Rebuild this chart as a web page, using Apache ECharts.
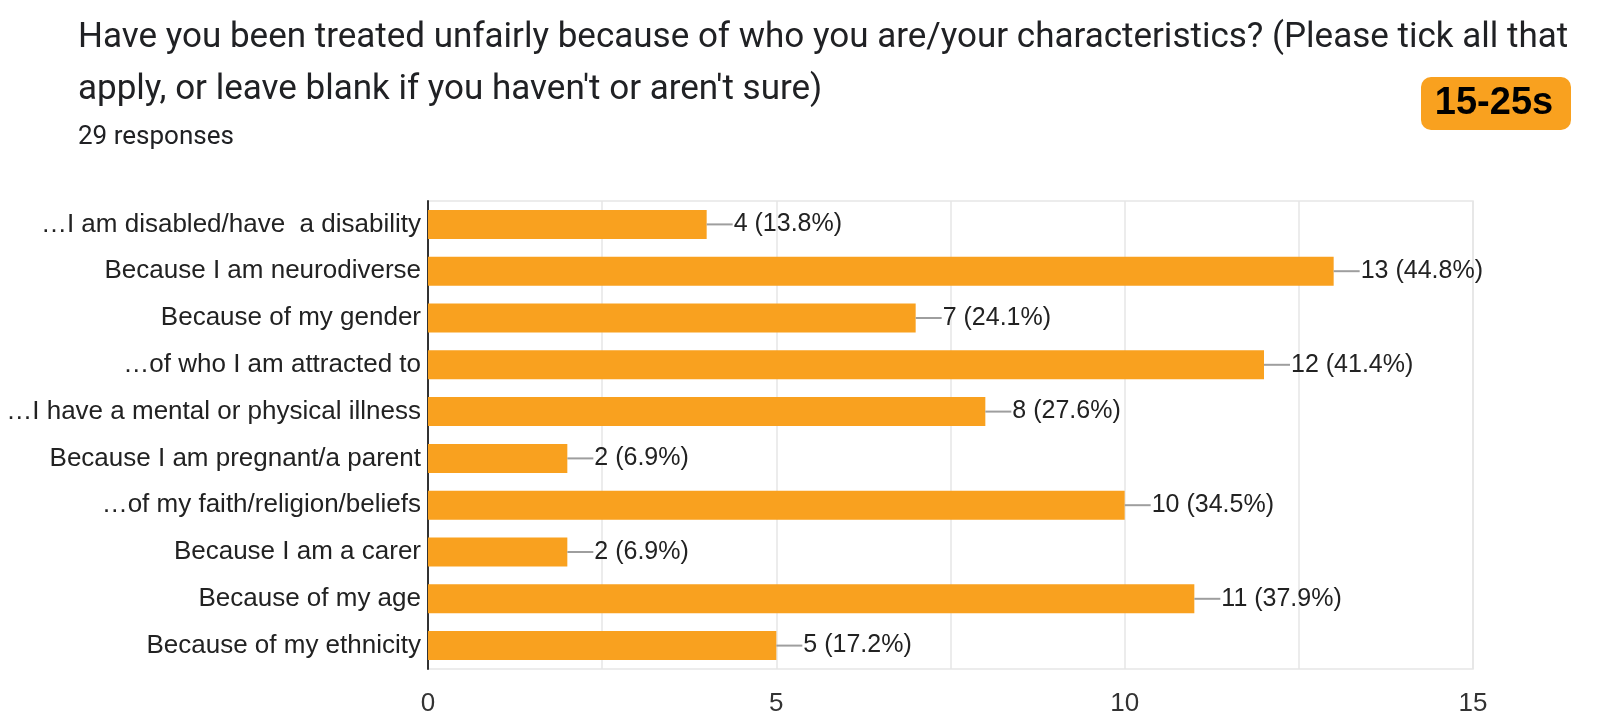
<!DOCTYPE html>
<html>
<head>
    <title>Treated unfairly - 15-25s</title>
    <meta charset="utf-8" />
    <script src="https://cdn.jsdelivr.net/npm/echarts@6/dist/echarts.min.js"></script>
    <style type="text/css">
        html,
        body {
            width: 100%;
            height: 100%;
            margin: 0;
            background: #fff;
        }

        #chart {
            width: 1600px;
            height: 725px;
        }
    </style>
</head>

<body>
    <div id="chart"></div>
    <script>
        var categories = [
            '…I am disabled/have  a disability',
            'Because I am neurodiverse',
            'Because of my gender',
            '…of who I am attracted to',
            '…I have a mental or physical illness',
            'Because I am pregnant/a parent',
            '…of my faith/religion/beliefs',
            'Because I am a carer',
            'Because of my age',
            'Because of my ethnicity'
        ];
        var counts = [4, 13, 7, 12, 8, 2, 10, 2, 11, 5];
        var percents = ['13.8%', '44.8%', '24.1%', '41.4%', '27.6%', '6.9%', '34.5%', '6.9%', '37.9%', '17.2%'];
        var xTickLabels = [0, 5, 10, 15];

        var titleLines = [
            'Have you been treated unfairly because of who you are/your characteristics? (Please tick all that',
            'apply, or leave blank if you haven\'t or aren\'t sure)'
        ];
        var subtitle = '29 responses';
        var badgeText = '15-25s';

        var myChart = echarts.init(document.getElementById('chart'));

        var option = {
            backgroundColor: '#fff',
            animation: false,
            textStyle: { fontFamily: 'Liberation Sans, Arial, sans-serif' },
            grid: {
                left: 428,
                right: 127,
                top: 201,
                bottom: 56,
                show: true,
                borderColor: '#e6e6e6',
                borderWidth: 1.5
            },
            xAxis: {
                type: 'value',
                min: 0,
                max: 15,
                interval: 2.5,
                axisLine: { show: false },
                axisTick: { show: false },
                splitLine: { lineStyle: { color: '#e6e6e6', width: 1.5 } },
                axisLabel: {
                    fontSize: 26,
                    color: '#333',
                    margin: 22,
                    formatter: function (v) {
                        return xTickLabels.indexOf(v) >= 0 ? String(v) : '';
                    }
                }
            },
            yAxis: {
                type: 'category',
                inverse: true,
                data: categories,
                axisLine: { show: true, lineStyle: { color: '#333', width: 2 } },
                axisTick: { show: false },
                axisLabel: { fontSize: 26, color: '#222', margin: 7 }
            },
            series: [
                {
                    type: 'bar',
                    data: counts,
                    barWidth: 29,
                    itemStyle: { color: '#F9A11F' },
                    label: {
                        show: true,
                        position: 'right',
                        distance: 0,
                        formatter: function (p) {
                            return '{l|}{t|' + counts[p.dataIndex] + ' (' + percents[p.dataIndex] + ')}';
                        },
                        rich: {
                            l: { width: 26, height: 2, backgroundColor: '#9e9e9e' },
                            t: { fontSize: 25, color: '#222', padding: [0, 0, 0, 1] }
                        }
                    }
                }
            ],
            graphic: [
                {
                    type: 'text', x: 78, y: 38,
                    style: { text: titleLines[0], fontFamily: 'Roboto', fontSize: 35, fill: '#202124', align: 'left', verticalAlign: 'middle' }
                },
                {
                    type: 'text', x: 78, y: 90,
                    style: { text: titleLines[1], fontFamily: 'Roboto', fontSize: 35, fill: '#202124', align: 'left', verticalAlign: 'middle' }
                },
                {
                    type: 'text', x: 78, y: 137,
                    style: { text: subtitle, fontFamily: 'Roboto', fontSize: 26, fill: '#202124', align: 'left', verticalAlign: 'middle' }
                },
                {
                    type: 'rect',
                    shape: { x: 1421, y: 77, width: 150, height: 53, r: 10 },
                    style: { fill: '#F9A11F' }
                },
                {
                    type: 'text', x: 1494, y: 104,
                    style: { text: badgeText, fontFamily: 'Liberation Sans', fontWeight: 'bold', fontSize: 38, fill: '#000', align: 'center', verticalAlign: 'middle' }
                }
            ]
        };

        myChart.setOption(option);
    </script>
</body>
</html>
